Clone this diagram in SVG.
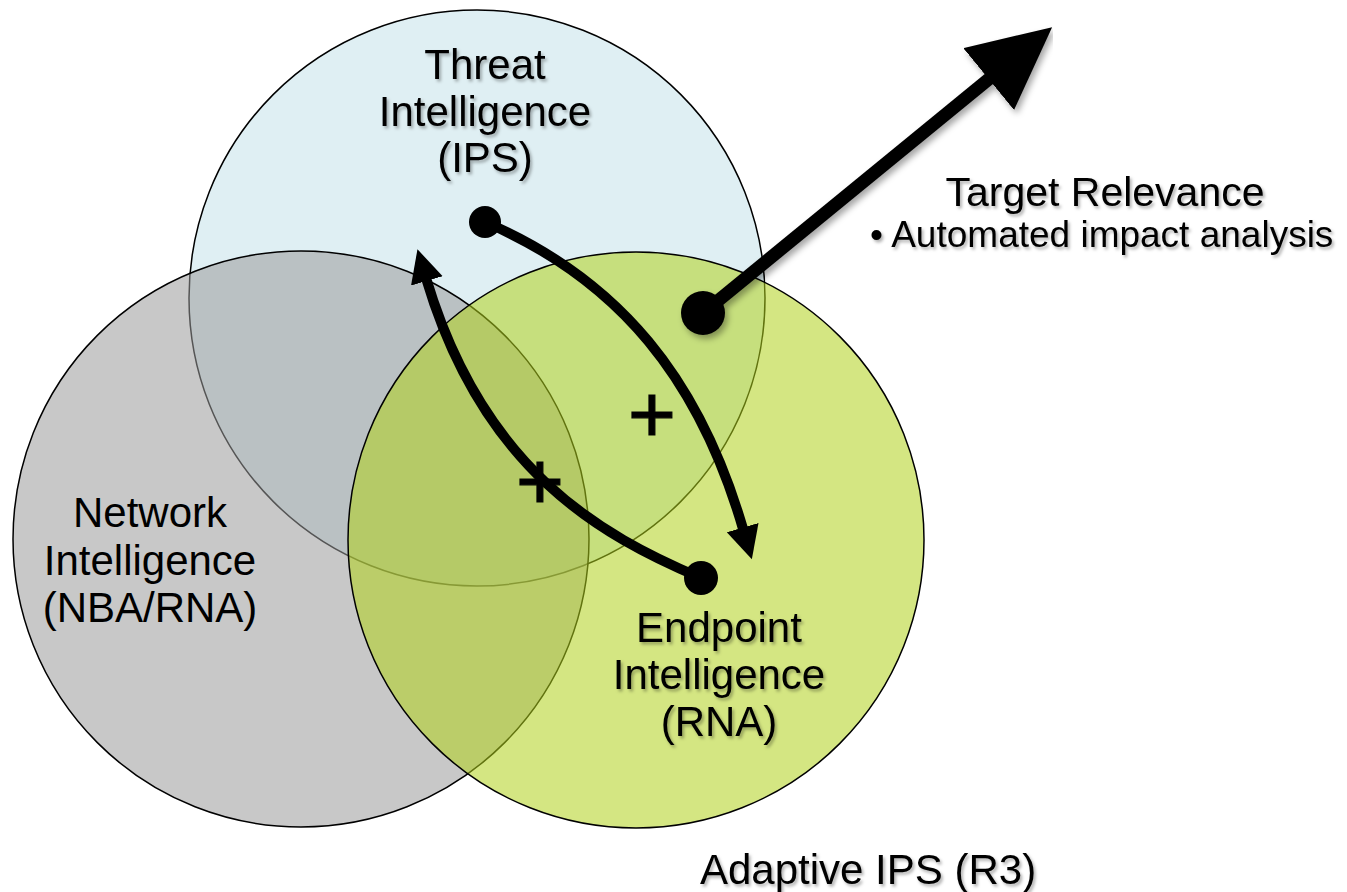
<svg xmlns="http://www.w3.org/2000/svg" width="1347" height="892" viewBox="0 0 1347 892">
  <style>
    .lbl { font-family: "Liberation Sans", Arial, Helvetica, sans-serif; font-size: 42px; fill: #000; text-anchor: middle; }
    .ring { stroke: #000; stroke-width: 1.5; }
    .conn { fill: none; stroke: #000; stroke-width: 10; stroke-linecap: butt; }
    .plus { font-family: "Liberation Sans", Arial, sans-serif; font-size: 82px; fill: #000; stroke: #000; stroke-width: 1.2; text-anchor: middle; }
  </style>
  <defs>
    <filter id="tshadow" x="-10%" y="-20%" width="120%" height="150%">
      <feDropShadow dx="2" dy="2.5" stdDeviation="1.5" flood-color="#000" flood-opacity="0.3"/>
    </filter>
    <filter id="ashadow" x="-20%" y="-20%" width="140%" height="140%">
      <feDropShadow dx="3" dy="4" stdDeviation="3" flood-color="#000" flood-opacity="0.35"/>
    </filter>
    <marker id="arrowSmall" markerUnits="userSpaceOnUse" markerWidth="34" markerHeight="34" refX="3" refY="16.5" orient="auto">
      <path d="M0,0 L33,16.5 L0,33 z" fill="#000"/>
    </marker>
    <marker id="arrowBig" markerUnits="userSpaceOnUse" markerWidth="84" markerHeight="82" refX="3" refY="40" orient="auto">
      <path d="M0,0 L82,40 L0,80 z" fill="#000"/>
    </marker>
  </defs>

  <rect width="1347" height="892" fill="#fff"/>

  <g id="node-threat">
    <circle class="ring" cx="477" cy="298" r="288" fill="#DFEFF3"/>
    <g filter="url(#tshadow)">
      <text class="lbl" x="485" y="79">Threat</text>
      <text class="lbl" x="485" y="125.5">Intelligence</text>
      <text class="lbl" x="485" y="172">(IPS)</text>
    </g>
  </g>

  <g id="node-network">
    <circle class="ring" cx="301" cy="539" r="288" fill="#9B9B9B" fill-opacity="0.55"/>
    <text class="lbl" x="150" y="527">Network</text>
    <text class="lbl" x="150" y="574.5">Intelligence</text>
    <text class="lbl" x="150" y="621.5">(NBA/RNA)</text>
  </g>

  <g id="node-endpoint">
    <circle class="ring" cx="636" cy="540" r="288" fill="#B1D21C" fill-opacity="0.55"/>
    <g filter="url(#tshadow)">
      <text class="lbl" x="719" y="642">Endpoint</text>
      <text class="lbl" x="719" y="689">Intelligence</text>
      <text class="lbl" x="719" y="736">(RNA)</text>
    </g>
  </g>

  <g id="connectors">
    <circle cx="485" cy="222" r="16" fill="#000"/>
    <path class="conn" d="M485,222 C620,280 700,380 743.5,530.5" marker-end="url(#arrowSmall)"/>
    <circle cx="701" cy="578" r="17" fill="#000"/>
    <path class="conn" d="M701,578 C600,535 483,470 426,278" marker-end="url(#arrowSmall)"/>
    <g filter="url(#ashadow)">
      <circle cx="703" cy="313" r="22" fill="#000"/>
      <path d="M703,313 L991,77.2" fill="none" stroke="#000" stroke-width="13" marker-end="url(#arrowBig)"/>
    </g>
  </g>

  <g id="plus-signs">
    <text class="plus" x="652" y="442">+</text>
    <text class="plus" x="540" y="509">+</text>
  </g>

  <g id="node-target" filter="url(#tshadow)">
    <text class="lbl" x="1105" y="206" style="font-size:41px">Target Relevance</text>
    <text x="870" y="247" style="font-family:'Liberation Sans', Arial, sans-serif; font-size:37px; fill:#000">• Automated impact analysis</text>
  </g>

  <g id="label-adaptive" filter="url(#tshadow)">
    <text x="700" y="884" style="font-family:'Liberation Sans', Arial, sans-serif; font-size:42px; fill:#000">Adaptive IPS (R3)</text>
  </g>
</svg>
